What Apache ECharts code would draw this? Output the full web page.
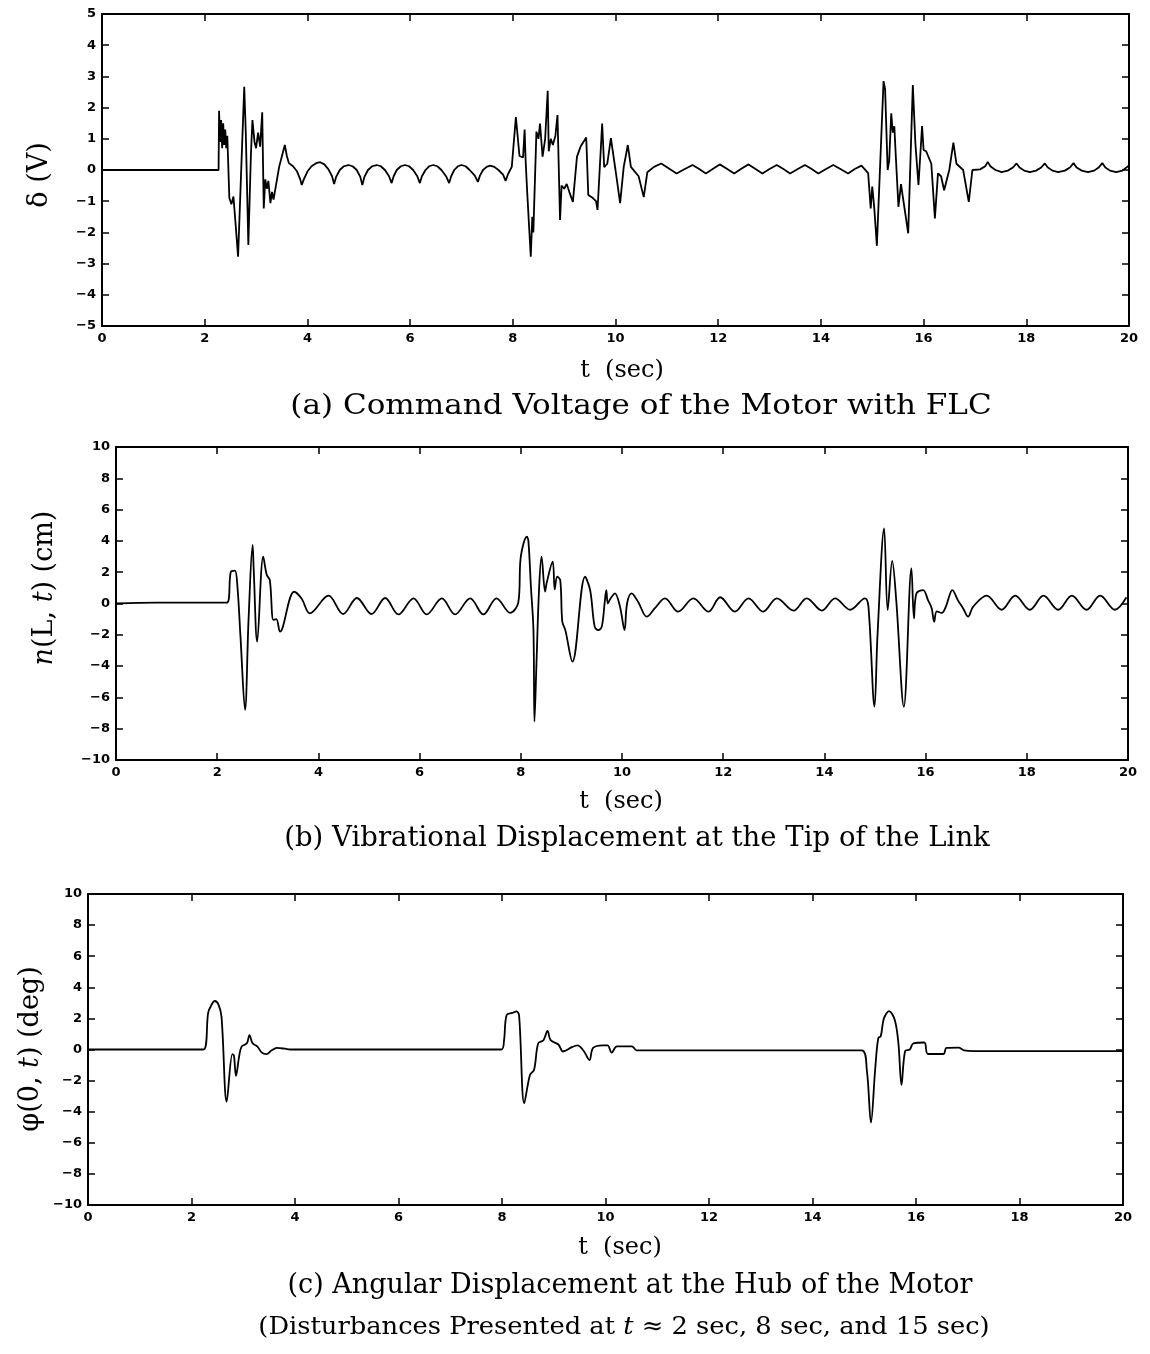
<!DOCTYPE html>
<html>
<head>
<meta charset="utf-8">
<script src="https://cdn.jsdelivr.net/npm/echarts@6/dist/echarts.min.js"></script>
<style>
  html, body { margin: 0; padding: 0; background: #fff; }
  #chart { width: 1150px; height: 1354px; }
</style>
</head>
<body>
<div id="chart"></div>
<script>
// x ticks (sec)
const tTicks = [0, 2, 4, 6, 8, 10, 12, 14, 16, 18, 20]

// (a) command voltage delta (V): [t, v]
const voltage = [
  [0, 0], [2.27, 0], [2.28, 1.9], [2.30, 0.9], [2.32, 1.6], [2.34, 0.7], [2.36, 1.5], [2.38, 0.8],
  [2.40, 1.3], [2.42, 0.7], [2.44, 1.1], [2.45, 0.6], [2.48, -0.9], [2.52, -1.1], [2.56, -0.85],
  [2.60, -1.7], [2.65, -2.78], [2.70, -0.5], [2.77, 2.67], [2.80, 1.2], [2.85, -2.4], [2.90, 0.5],
  [2.93, 1.6], [2.97, 0.9], [3.0, 0.7], [3.04, 1.2], [3.08, 0.75], [3.12, 1.85], [3.15, -1.23],
  [3.18, -0.3], [3.21, -0.6], [3.24, -0.35], [3.28, -1.06], [3.31, -0.7], [3.34, -0.95], [3.45, 0.1],
  [3.56, 0.8], [3.60, 0.45], [3.64, 0.22], [3.72, 0.12], [3.80, -0.05], [3.86, -0.3], [3.89, -0.48],
  [3.93, -0.3], [4.0, -0.05], [4.08, 0.12], [4.17, 0.22], [4.25, 0.25], [4.33, 0.18], [4.41, 0.02],
  [4.48, -0.2], [4.52, -0.45], [4.56, -0.22], [4.63, 0.0], [4.71, 0.12], [4.80, 0.16], [4.88, 0.12],
  [4.96, 0.0], [5.03, -0.22], [5.07, -0.48], [5.11, -0.22], [5.18, 0.0], [5.26, 0.12], [5.35, 0.16],
  [5.43, 0.12], [5.51, 0.0], [5.59, -0.2], [5.64, -0.42], [5.68, -0.2], [5.74, 0.0], [5.82, 0.12],
  [5.90, 0.16], [5.98, 0.12], [6.06, 0.0], [6.14, -0.2], [6.19, -0.42], [6.23, -0.2], [6.30, 0.0],
  [6.37, 0.12], [6.45, 0.16], [6.53, 0.12], [6.61, 0.0], [6.70, -0.2], [6.76, -0.42], [6.80, -0.2],
  [6.86, 0.0], [6.93, 0.12], [7.0, 0.16], [7.08, 0.12], [7.16, 0.0], [7.26, -0.18], [7.32, -0.38],
  [7.36, -0.18], [7.42, 0.0], [7.49, 0.1], [7.56, 0.14], [7.64, 0.1], [7.72, 0.0], [7.81, -0.15],
  [7.86, -0.35], [7.91, -0.12], [7.98, 0.1], [8.06, 1.7], [8.13, 0.45], [8.2, 0.4], [8.23, 1.3],
  [8.25, 0.3], [8.28, -0.7], [8.35, -2.78], [8.38, -1.5], [8.40, -2.0], [8.46, 1.23], [8.50, 1.0],
  [8.53, 1.49], [8.58, 0.43], [8.63, 1.0], [8.68, 2.54], [8.70, 0.6], [8.74, 1.0], [8.78, 0.8],
  [8.83, 1.1], [8.87, 1.76], [8.92, -1.6], [8.95, -0.5], [9.0, -0.6], [9.05, -0.45], [9.1, -0.7],
  [9.17, -1.02], [9.25, 0.43], [9.32, 0.75], [9.43, 1.04], [9.47, -0.8], [9.56, -0.9], [9.62, -1.0],
  [9.65, -1.28], [9.74, 1.49], [9.78, 0.09], [9.84, 0.2], [9.91, 1.02], [10.0, 0.0], [10.09, -1.06],
  [10.16, 0.1], [10.24, 0.8], [10.30, 0.1], [10.45, -0.2], [10.55, -0.87], [10.62, -0.07], [10.75, 0.1],
  [10.89, 0.21], [11.04, 0.05], [11.19, -0.11], [11.35, 0.03], [11.50, 0.16], [11.63, 0.03],
  [11.76, -0.11], [11.90, 0.04], [12.03, 0.18], [12.17, 0.04], [12.31, -0.11], [12.45, 0.04],
  [12.59, 0.18], [12.72, 0.04], [12.86, -0.11], [13.0, 0.03], [13.14, 0.16], [13.27, 0.03],
  [13.4, -0.11], [13.55, 0.03], [13.69, 0.16], [13.82, 0.03], [13.95, -0.11], [14.1, 0.03],
  [14.24, 0.16], [14.38, 0.03], [14.53, -0.11], [14.66, 0.03], [14.79, 0.14], [14.92, -0.1],
  [14.97, -1.23], [15.0, -0.53], [15.04, -1.23], [15.09, -2.43], [15.22, 2.85], [15.25, 2.6],
  [15.30, 0.0], [15.33, 0.3], [15.37, 1.82], [15.40, 1.2], [15.43, 1.4], [15.46, 0.4], [15.51, -1.18],
  [15.56, -0.45], [15.59, -0.8], [15.70, -2.03], [15.79, 2.72], [15.84, 0.85], [15.90, -0.48],
  [15.97, 1.41], [16.0, 0.64], [16.05, 0.6], [16.15, 0.2], [16.22, -1.55], [16.28, -0.11], [16.34, -0.2],
  [16.40, -0.65], [16.50, 0.0], [16.58, 0.88], [16.64, 0.2], [16.77, 0.0], [16.88, -1.02], [16.95, 0.0],
  [17.1, 0.02], [17.2, 0.12], [17.25, 0.26], [17.3, 0.12], [17.4, 0.0], [17.52, -0.07], [17.64, -0.02],
  [17.74, 0.08], [17.81, 0.21], [17.87, 0.08], [17.96, -0.02], [18.07, -0.07], [18.19, -0.02],
  [18.29, 0.08], [18.36, 0.21], [18.42, 0.08], [18.51, -0.02], [18.62, -0.07], [18.75, -0.02],
  [18.85, 0.08], [18.92, 0.22], [18.98, 0.08], [19.08, -0.02], [19.2, -0.07], [19.32, -0.02],
  [19.41, 0.08], [19.48, 0.22], [19.54, 0.08], [19.63, -0.02], [19.75, -0.07], [19.87, -0.02],
  [19.95, 0.08], [20, 0.15]
]

// (b) tip vibrational displacement (cm): [t, v]
const tipDisp = [
  [0, 0], [0.8, 0.05], [2.19, 0.05], [2.27, 2.03], [2.35, 2.1], [2.40, 1.07], [2.46, -2.12],
  [2.55, -6.8], [2.62, -1.0], [2.70, 3.74], [2.72, 2.3], [2.79, -2.44], [2.91, 2.99], [2.98, 1.82],
  [3.04, 1.5], [3.11, -1.05], [3.17, -1.0], [3.24, -1.8], [3.52, 0.75], [3.67, 0.3], [3.83, -0.63],
  [4.2, 0.5], [4.49, -0.67], [4.76, 0.35], [5.05, -0.67], [5.32, 0.35], [5.58, -0.7], [5.88, 0.33],
  [6.14, -0.7], [6.44, 0.33], [6.70, -0.7], [7.0, 0.33], [7.26, -0.7], [7.52, 0.33], [7.79, -0.6],
  [7.95, 0.05], [8.0, 3.0], [8.12, 4.27], [8.15, 4.0], [8.2, 1.07], [8.25, -1.7], [8.27, -7.55],
  [8.31, -3.8], [8.36, 0.86], [8.41, 2.99], [8.48, 0.76], [8.51, 1.3], [8.63, 2.67], [8.67, 0.9],
  [8.72, 1.71], [8.78, 1.5], [8.82, -1.16], [8.88, -1.7], [9.02, -3.72], [9.27, 1.71], [9.37, 0.86],
  [9.46, -1.48], [9.53, -1.7], [9.6, -1.48], [9.66, 0.13], [9.69, 0.86], [9.72, 0.0], [9.77, 0.3],
  [9.86, 0.65], [9.96, -0.2], [10.05, -1.7], [10.10, 0.0], [10.19, 0.65], [10.32, 0.1], [10.49, -0.84],
  [10.65, -0.3], [10.85, 0.33], [11.11, -0.52], [11.41, 0.33], [11.71, -0.52], [11.94, 0.4],
  [12.23, -0.52], [12.5, 0.33], [12.79, -0.52], [13.06, 0.33], [13.39, -0.45], [13.65, 0.33],
  [13.95, -0.45], [14.21, 0.33], [14.51, -0.4], [14.8, 0.33], [14.87, -0.2], [14.99, -6.59],
  [15.05, -2.0], [15.18, 4.8], [15.25, -0.42], [15.34, 2.72], [15.42, 0.2], [15.57, -6.59],
  [15.72, 2.25], [15.77, -0.95], [15.82, 0.65], [15.95, 0.86], [16.05, 0.2], [16.12, -0.3],
  [16.17, -1.16], [16.22, -0.5], [16.32, -0.6], [16.40, -0.2], [16.53, 0.86], [16.64, 0.2],
  [16.74, -0.3], [16.84, -0.84], [16.94, -0.2], [17.21, 0.5], [17.5, -0.4], [17.77, 0.5],
  [18.06, -0.4], [18.33, 0.5], [18.62, -0.4], [18.89, 0.5], [19.18, -0.4], [19.45, 0.5],
  [19.74, -0.4], [19.97, 0.4]
]

// (c) hub angular displacement (deg): [t, v]
const hubAngle = [
  [0, 0], [2.23, 0], [2.32, 2.33], [2.36, 2.7], [2.45, 3.12], [2.52, 2.9], [2.58, 2.1], [2.68, -3.35],
  [2.79, -0.3], [2.82, -0.4], [2.86, -1.7], [2.92, -0.46], [2.97, 0.2], [3.07, 0.4], [3.12, 0.93],
  [3.18, 0.4], [3.27, 0.2], [3.36, -0.2], [3.45, -0.3], [3.55, -0.05], [3.65, 0.1], [3.81, 0.05],
  [3.90, 0.0], [7.99, 0], [8.04, 0.6], [8.09, 2.22], [8.2, 2.35], [8.28, 2.45], [8.33, 2.2],
  [8.43, -3.46], [8.54, -1.64], [8.62, -1.3], [8.70, 0.4], [8.80, 0.6], [8.88, 1.19], [8.94, 0.6],
  [9.09, 0.32], [9.18, -0.13], [9.35, 0.15], [9.46, 0.27], [9.58, -0.1], [9.69, -0.68], [9.76, 0.1],
  [9.95, 0.27], [10.04, 0.27], [10.12, -0.2], [10.22, 0.2], [10.51, 0.2], [10.60, -0.05],
  [10.80, -0.05], [14.95, -0.05], [15.05, -1.32], [15.13, -4.7], [15.21, -1.32], [15.27, 0.72],
  [15.32, 0.87], [15.38, 2.0], [15.48, 2.47], [15.59, 1.9], [15.66, 0.4], [15.72, -2.28], [15.79, -0.1],
  [15.88, 0.0], [15.95, 0.4], [16.16, 0.45], [16.23, -0.29], [16.53, -0.29], [16.59, 0.1],
  [16.82, 0.12], [16.93, -0.05], [17.11, -0.1], [20, -0.1]
]

const chart = echarts.init(document.getElementById('chart'))

const tickFont = { fontFamily: 'DejaVu Sans', fontWeight: 'bold', fontSize: 13, color: '#000' }
const serif = '"DejaVu Serif", "Liberation Serif", serif'

function minusFmt(v) {
  return v < 0 ? '\u2212' + Math.abs(v) : String(v)
}

function xAxes(grid) {
  const base = {
    gridIndex: grid, type: 'value', min: 0, max: 20, interval: 2,
    splitLine: { show: false },
    axisLine: { onZero: false, lineStyle: { color: '#000', width: 2 } },
    axisTick: { inside: true, length: 7, lineStyle: { color: '#000', width: 1.5 } }
  }
  return [
    Object.assign({}, base, { position: 'bottom', axisLabel: Object.assign({ margin: 6, formatter: minusFmt }, tickFont) }),
    Object.assign({}, base, { position: 'top', axisLabel: { show: false } })
  ]
}

function yAxes(grid, lim, step) {
  const base = {
    gridIndex: grid, type: 'value', min: -lim, max: lim, interval: step,
    splitLine: { show: false },
    axisLine: { onZero: false, lineStyle: { color: '#000', width: 2 } },
    axisTick: { inside: true, length: 7, lineStyle: { color: '#000', width: 1.5 } }
  }
  return [
    Object.assign({}, base, { position: 'left', axisLabel: Object.assign({ margin: 6, formatter: minusFmt }, tickFont) }),
    Object.assign({}, base, { position: 'right', axisLabel: { show: false } })
  ]
}

function lineSeries(idx, data, smooth) {
  return {
    type: 'line', xAxisIndex: idx * 2, yAxisIndex: idx * 2, data: data,
    showSymbol: false, smooth: smooth, animation: false,
    lineStyle: { color: '#000', width: 1.8 }
  }
}

function caption(x, y, text, size, sx) {
  return {
    type: 'text', x: x, y: y, scaleX: sx || 1,
    style: {
      text: text, font: 'normal ' + size + 'px ' + serif, fill: '#000', textAlign: 'center', textVerticalAlign: 'middle',
      rich: { i: { fontStyle: 'italic', fontFamily: serif, fontSize: size } }
    }
  }
}

function axisName(x, y, text) {
  return {
    type: 'text', x: x, y: y, rotation: Math.PI / 2,
    style: {
      text: text, font: 'normal 27px ' + serif, fill: '#000', textAlign: 'center', textVerticalAlign: 'middle',
      rich: { i: { fontStyle: 'italic', fontFamily: serif, fontSize: 27 } }
    }
  }
}

chart.setOption({
  animation: false,
  backgroundColor: '#fff',
  grid: [
    { left: 102, top: 14, width: 1027, height: 312 },
    { left: 116, top: 447, width: 1012, height: 313 },
    { left: 88, top: 894, width: 1035, height: 311 }
  ],
  xAxis: [].concat(xAxes(0), xAxes(1), xAxes(2)),
  yAxis: [].concat(yAxes(0, 5, 1), yAxes(1, 10, 2), yAxes(2, 10, 2)),
  series: [
    lineSeries(0, voltage, false),
    lineSeries(1, tipDisp, 0.35),
    lineSeries(2, hubAngle, 0.35)
  ],
  graphic: [
    axisName(40, 175, '\u03b4 (V)'),
    axisName(45, 588, '{i|n}(L, {i|t}) (cm)'),
    axisName(31, 1049, '\u03c6(0, {i|t}) (deg)'),
    caption(622, 371, 't  (sec)', 24),
    caption(641, 407, '(a) Command Voltage of the Motor with FLC', 27, 1.15),
    caption(621, 802, 't  (sec)', 24),
    caption(637, 839, '(b) Vibrational Displacement at the Tip of the Link', 27, 1.02),
    caption(620, 1248, 't  (sec)', 24),
    caption(630, 1286, '(c) Angular Displacement at the Hub of the Motor', 27),
    caption(624, 1327, '(Disturbances Presented at {i|t} \u2248 2 sec, 8 sec, and 15 sec)', 25, 1.03)
  ]
})
</script>
</body>
</html>
